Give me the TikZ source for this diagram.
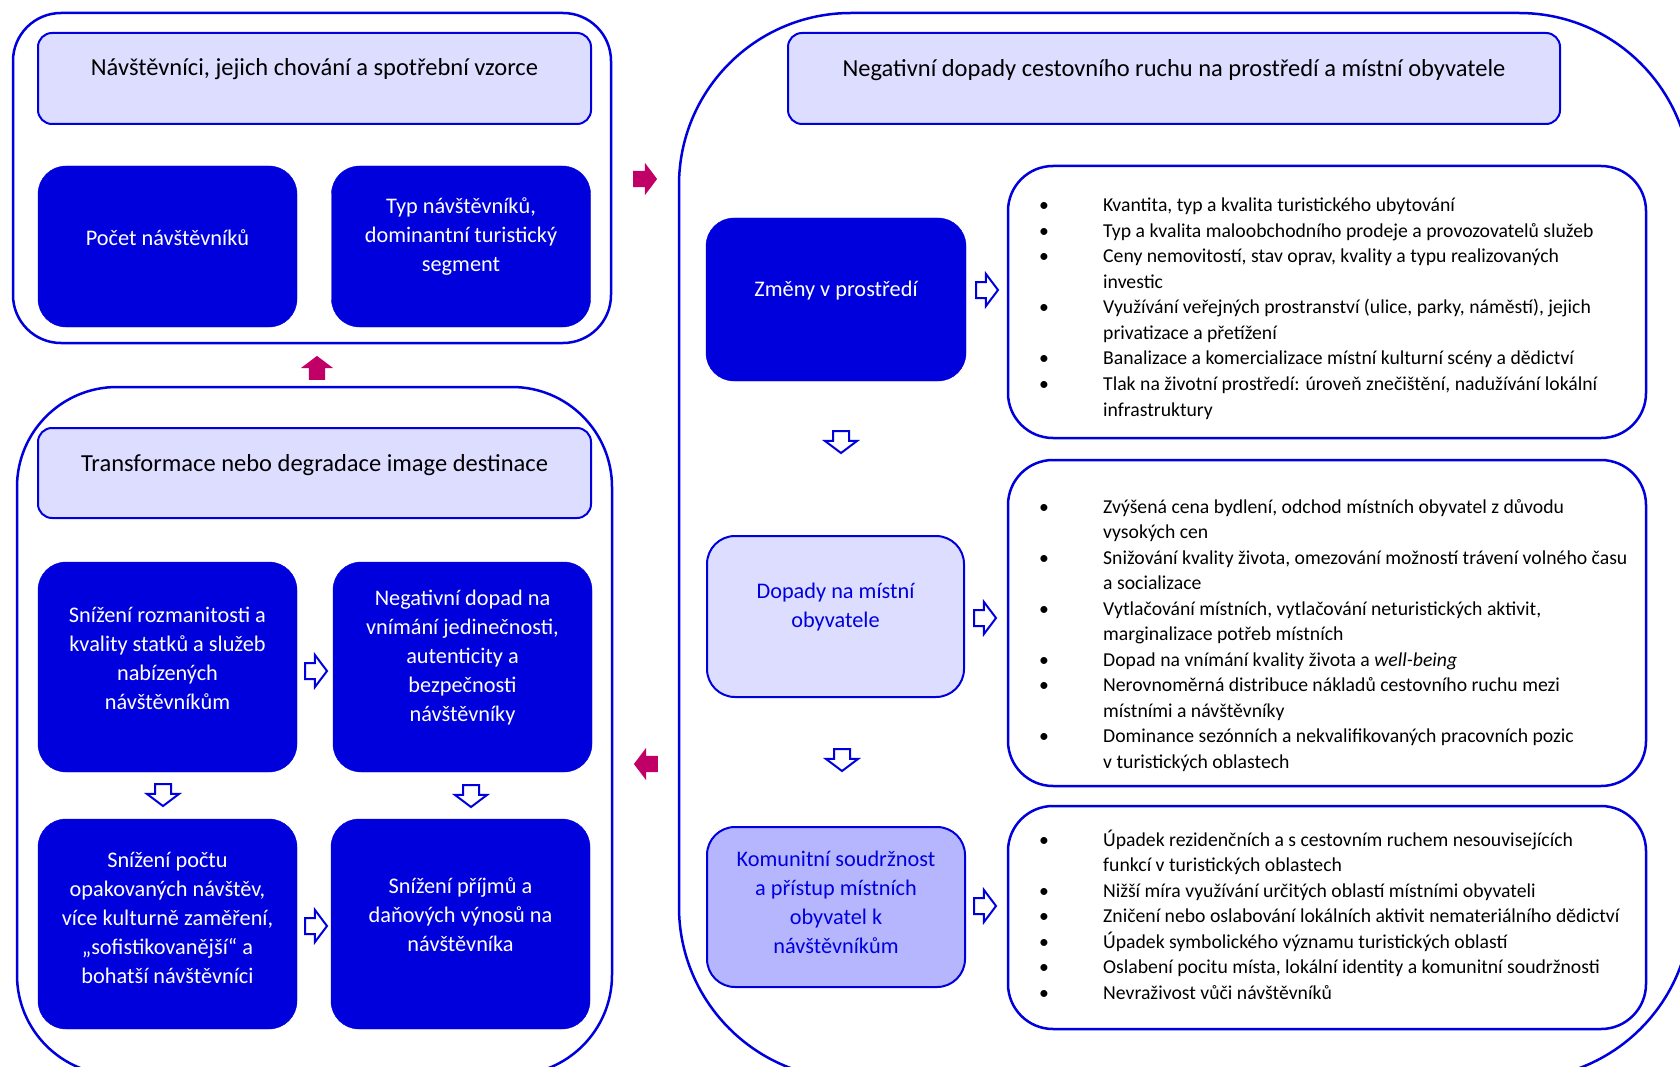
\documentclass[tikz,border=0pt]{standalone}
\usepackage{fontspec}
\setmainfont{Carlito}
\usetikzlibrary{shapes.arrows}

\definecolor{bblue}{RGB}{0,0,221}
\definecolor{lfill}{RGB}{221,221,255}
\definecolor{mfill}{RGB}{182,182,255}
\definecolor{berry}{RGB}{192,0,102}

\newcommand{\hdrfont}{\fontsize{24.5}{29}\selectfont}
\newcommand{\boxfont}{\fontsize{22.3}{29}\selectfont}
\newcommand{\listfont}{\fontsize{19.7}{25.5}\selectfont}

\begin{document}
\begin{tikzpicture}[x=1pt,y=-1pt,
  frame/.style={rectangle,draw=bblue,line width=2.5pt,inner sep=0pt},
  hdr/.style={rectangle,draw=bblue,fill=lfill,line width=2pt,rounded corners=14pt,
              inner sep=0pt,minimum width=553pt,minimum height=91pt},
  darkbox/.style={rectangle,fill=bblue,draw=bblue,rounded corners=28pt,inner sep=0pt,
              minimum width=259pt,minimum height=161pt},
  lightbox/.style={rectangle,draw=bblue,line width=2pt,rounded corners=28pt,inner sep=0pt,
              minimum width=257pt,minimum height=161pt},
  listbox/.style={rectangle,draw=bblue,line width=2.5pt,fill=white,rounded corners=45pt,
              inner sep=0pt,minimum width=638pt},
  hdrtext/.style={font=\hdrfont,text=black,inner sep=0pt},
  wtext/.style={font=\boxfont,text=white,align=center,inner sep=0pt},
  btext/.style={font=\boxfont,text=bblue,align=center,inner sep=0pt},
  listtext/.style={font=\listfont,text=black,anchor=base west,inner sep=0pt},
  barrow/.style={single arrow,inner sep=0pt,single arrow head extend=8pt,
              single arrow tip angle=106,minimum height=24pt},
  solidarrow/.style={barrow,fill=berry,draw=none},
  hollowarrow/.style={barrow,fill=white,draw=bblue,line width=2pt,minimum height=22pt},
]
\useasboundingbox (0,0) rectangle (1680,1067);
\clip (0,0) rectangle (1680,1067);

% ---------- outer frames ----------
\node[frame,minimum width=598pt,minimum height=330pt,rounded corners=48pt] (contA) at (312,178) {};
\node[frame,minimum width=595pt,minimum height=688pt,rounded corners=100pt] (contB) at (314.5,731) {};
\node[frame,minimum width=1012pt,minimum height=1066pt,rounded corners=172pt] (contC) at (1185,546) {};

% ---------- visitors ----------
\node[hdr] (hA) at (314.5,78.5) {};
\node[hdrtext] (hAt) at (314.5,69) {Návštěvníci, jejich chování a spotřební vzorce};
\node[darkbox] (pocet) at (167.5,246.5) {};
\node[wtext] (pocett) at (167.5,238) {Počet návštěvníků};
\node[darkbox] (typ) at (461,246.5) {};
\node[wtext] (typt) at (461,237) {Typ návštěvníků,\\dominantní turistický\\segment};

% ---------- image of the destination ----------
\node[hdr,minimum height=90pt] (hB) at (314.5,473) {};
\node[hdrtext] (hBt) at (314.5,465) {Transformace nebo degradace image destinace};
\node[darkbox,minimum height=210pt] (roz) at (167.5,667) {};
\node[wtext] (rozt) at (167.5,658) {Snížení rozmanitosti a\\kvality statků a služeb\\nabízených\\návštěvníkům};
\node[darkbox,minimum height=210pt] (neg) at (462.5,667) {};
\node[wtext] (negt) at (462.5,658) {Negativní dopad na\\vnímání jedinečnosti,\\autenticity a\\bezpečnosti\\návštěvníky};
\node[darkbox,minimum height=210pt] (poc) at (167.5,924) {};
\node[wtext] (poct) at (167.5,918) {Snížení počtu\\opakovaných návštěv,\\více kulturně zaměření,\\„sofistikovanější“ a\\bohatší návštěvníci};
\node[darkbox,minimum height=210pt] (pri) at (460.5,924) {};
\node[wtext] (prit) at (460.5,915) {Snížení příjmů a\\daňových výnosů na\\návštěvníka};

% ---------- negative impacts ----------
\node[hdr,minimum width=772pt] (hC) at (1174,78.5) {};
\node[hdrtext] (hCt) at (1174,70) {Negativní dopady cestovního ruchu na prostředí a místní obyvatele};

\node[darkbox,minimum width=260pt,minimum height=163pt] (zmeny) at (836,299.5) {};
\node[wtext] (zmenyt) at (836,291) {Změny v prostředí};
\node[lightbox,fill=lfill] (dopady) at (835.5,616.5) {};
\node[btext] (dopadyt) at (835.5,607) {Dopady na místní\\obyvatele};
\node[lightbox,fill=mfill,minimum width=258pt,minimum height=160pt] (komun) at (836,907) {};
\node[btext] (komunt) at (836,902) {Komunitní soudržnost\\a přístup místních\\obyvatel k\\návštěvníkům};

\node[listbox,minimum height=272pt] (lA) at (1327,302) {};
\node[listtext] (lAt) at (1039,212) {\begin{tabular}[t]{@{}p{64pt}@{}l@{}}
\textbullet & Kvantita, typ a kvalita turistického ubytování\\
\textbullet & Typ a kvalita maloobchodního prodeje a provozovatelů služeb\\
\textbullet & Ceny nemovitostí, stav oprav, kvality a typu realizovaných\\
 & investic\\
\textbullet & Využívání veřejných prostranství (ulice, parky, náměstí), jejich\\
 & privatizace a přetížení\\
\textbullet & Banalizace a komercializace místní kulturní scény a dědictví\\
\textbullet & Tlak na životní prostředí: úroveň znečištění, nadužívání lokální\\
 & infrastruktury
\end{tabular}};

\node[listbox,minimum height=326pt] (lB) at (1327,623) {};
\node[listtext] (lBt) at (1039,513) {\begin{tabular}[t]{@{}p{64pt}@{}l@{}}
\textbullet & Zvýšená cena bydlení, odchod místních obyvatel z důvodu\\
 & vysokých cen\\
\textbullet & Snižování kvality života, omezování možností trávení volného času\\
 & a socializace\\
\textbullet & Vytlačování místních, vytlačování neturistických aktivit,\\
 & marginalizace potřeb místních\\
\textbullet & Dopad na vnímání kvality života a \textit{well-being}\\
\textbullet & Nerovnoměrná distribuce nákladů cestovního ruchu mezi\\
 & místními a návštěvníky\\
\textbullet & Dominance sezónních a nekvalifikovaných pracovních pozic\\
 & v turistických oblastech
\end{tabular}};

\node[listbox,minimum height=223pt] (lC) at (1327,917.5) {};
\node[listtext] (lCt) at (1039,846) {\begin{tabular}[t]{@{}p{64pt}@{}l@{}}
\textbullet & Úpadek rezidenčních a s cestovním ruchem nesouvisejících\\
 & funkcí v turistických oblastech\\
\textbullet & Nižší míra využívání určitých oblastí místními obyvateli\\
\textbullet & Zničení nebo oslabování lokálních aktivit nemateriálního dědictví\\
\textbullet & Úpadek symbolického významu turistických oblastí\\
\textbullet & Oslabení pocitu místa, lokální identity a komunitní soudržnosti\\
\textbullet & Nevraživost vůči návštěvníků
\end{tabular}};

% ---------- block arrows between the frames (shaft set by a strut) ----------
\node[solidarrow,rotate=90] (upA) at (317,371) {\rule{0pt}{16pt}};
\node[solidarrow] (rightA) at (642,179) {\rule{0pt}{16pt}};
\node[solidarrow,rotate=180] (leftA) at (649,764) {\rule{0pt}{16pt}};

% ---------- hollow arrows inside the frames ----------
\node[hollowarrow] (a1) at (313,671) {\rule{0pt}{14pt}};
\node[hollowarrow] (a2) at (313,926) {\rule{0pt}{14pt}};
\node[hollowarrow,rotate=-90] (a3) at (163,792) {\rule{0pt}{14pt}};
\node[hollowarrow,rotate=-90] (a4) at (471,793) {\rule{0pt}{14pt}};
\node[hollowarrow] (a5) at (984,290) {\rule{0pt}{14pt}};
\node[hollowarrow,rotate=-90] (a6) at (841,439) {\rule{0pt}{14pt}};
\node[hollowarrow] (a7) at (982,618) {\rule{0pt}{14pt}};
\node[hollowarrow,rotate=-90] (a8) at (842,757) {\rule{0pt}{14pt}};
\node[hollowarrow] (a9) at (982,906) {\rule{0pt}{14pt}};
\end{tikzpicture}
\end{document}
